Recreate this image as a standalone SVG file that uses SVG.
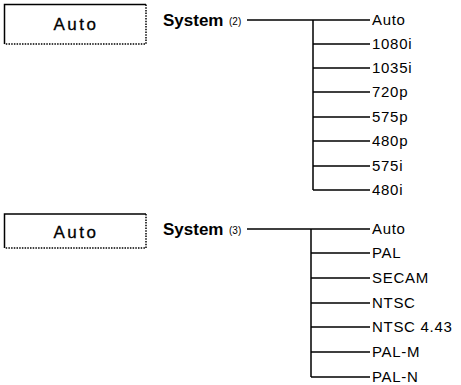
<svg xmlns="http://www.w3.org/2000/svg" width="461" height="385" viewBox="0 0 461 385">
<style>
.ln{stroke:#000;stroke-width:1.5;fill:none}
.dot{stroke:#000;stroke-width:1.5;stroke-dasharray:1.5 1.2;fill:none}
.bt{font-family:"Liberation Sans",Arial,sans-serif;font-size:17px;letter-spacing:2.5px;text-anchor:middle;stroke:#000;stroke-width:0.3}
.sys{font-family:"Liberation Sans",Arial,sans-serif;font-size:17px;font-weight:bold}
.num{font-family:"Liberation Sans",Arial,sans-serif;font-size:10px}
.lbl{font-family:"Liberation Sans",Arial,sans-serif;font-size:15px;letter-spacing:0.7px}
</style>
<rect width="461" height="385" fill="#fff"/>
<g id="box1">
<path class="ln" d="M4.5 44 V4.5 H146"/>
<path class="dot" d="M146 4.5 V44 H4.5"/>
<text class="bt" x="76" y="30">Auto</text>
</g>
<g id="sys2">
<text class="sys" x="163" y="26">System</text>
<text class="num" x="229" y="25">(2)</text>
</g>
<g id="box2">
<path class="ln" d="M4.5 248 V214 H146"/>
<path class="dot" d="M146 214 V248 H4.5"/>
<text class="bt" x="76" y="238">Auto</text>
</g>
<g id="sys3">
<text class="sys" x="163" y="235">System</text>
<text class="num" x="229" y="234">(3)</text>
</g>
<g id="connectors">
<path class="ln" d="M247 20 H370 M313 20 V190 M313 44 H370 M313 68 H370 M313 92 H370 M313 117 H370 M313 141 H370 M313 166 H370 M313 190 H370"/>
<path class="ln" d="M247 229 H370 M311 229 V377 M311 253 H370 M311 278 H370 M311 303 H370 M311 327 H370 M311 352 H370 M311 377 H370"/>
</g>
<g id="labels2" class="lbl">
<text x="372" y="25">Auto</text>
<text x="372" y="49">1080i</text>
<text x="372" y="73">1035i</text>
<text x="372" y="97">720p</text>
<text x="372" y="122">575p</text>
<text x="372" y="146">480p</text>
<text x="372" y="171">575i</text>
<text x="372" y="195">480i</text>
</g>
<g id="labels3" class="lbl">
<text x="372" y="234">Auto</text>
<text x="372" y="258">PAL</text>
<text x="372" y="283">SECAM</text>
<text x="372" y="308">NTSC</text>
<text x="372" y="332">NTSC 4.43</text>
<text x="372" y="357">PAL-M</text>
<text x="372" y="382">PAL-N</text>
</g>
</svg>
